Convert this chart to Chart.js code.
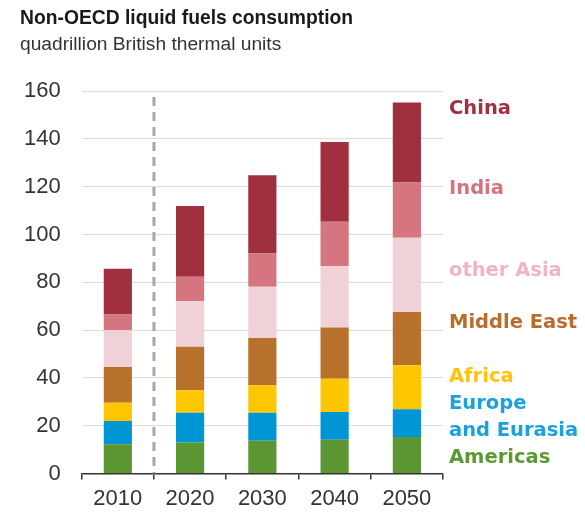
<!DOCTYPE html>
<html>
<head>
<meta charset="utf-8">
<script src="https://cdn.jsdelivr.net/npm/chart.js@4"></script>
<style>
    html, body { margin: 0; padding: 0; background: #fff; }
    #wrap { position: relative; width: 585px; height: 513px; overflow: hidden; }
    #fuelChart { display: block; }
    #title { position: absolute; left: 20px; top: 7px; font: bold 19.3px "Liberation Sans", Arial, sans-serif; color: #1a1a1a; }
    #subtitle { position: absolute; left: 20px; top: 33px; font: 19.2px "Liberation Sans", Arial, sans-serif; color: #333; }
</style>
</head>
<body>
<div id="wrap">
    <canvas id="fuelChart" width="585" height="513"></canvas>
    <div id="title">Non-OECD liquid fuels consumption</div>
    <div id="subtitle">quadrillion British thermal units</div>
</div>
<script>
const years = ['2010', '2020', '2030', '2040', '2050'];
const regions = ['Americas', 'Europe and Eurasia', 'Africa', 'Middle East', 'other Asia', 'India', 'China'];

const americas   = [12.3, 13.0, 13.7, 14.2, 15.3];
const europe     = [9.7, 12.4, 11.7, 11.6, 11.6];
const africa     = [7.6, 9.5, 11.5, 13.9, 18.4];
const middleEast = [15.0, 18.1, 19.8, 21.4, 22.3];
const otherAsia  = [15.3, 19.1, 21.4, 25.6, 31.0];
const india      = [6.6, 10.2, 13.9, 18.6, 23.1];
const china      = [19.2, 29.6, 32.8, 33.4, 33.5];

const yTicks = [0, 20, 40, 60, 80, 100, 120, 140, 160];

const seriesValues = [americas, europe, africa, middleEast, otherAsia, india, china];
const barColors = ['#5b9632', '#0096d6', '#fec600', '#b8712b', '#f0d1d7', '#d47580', '#a0303f'];

// right-hand labels, top to bottom, anchored in axis units
const sideLabels = [
    { lines: ['China'], at: 153.6, color: '#a3303f' },
    { lines: ['India'], at: 120.1, color: '#d6737f' },
    { lines: ['other Asia'], at: 85.9, color: '#efb6c1' },
    { lines: ['Middle East'], at: 64.0, color: '#b86d2a' },
    { lines: ['Africa'], at: 41.5, color: '#ffc20e' },
    { lines: ['Europe', 'and Eurasia'], at: 30.1, color: '#1ba1db' },
    { lines: ['Americas'], at: 7.6, color: '#5b9a32' }
];

const extrasPlugin = {
    id: 'extras',
    afterDatasetsDraw(chart) {
        const { ctx, chartArea, scales } = chart;
        const x = scales.x, y = scales.y;
        // dashed divider between history and projection
        const dx = (x.getPixelForValue(0) + x.getPixelForValue(1)) / 2;
        ctx.save();
        ctx.strokeStyle = '#a8a8a8';
        ctx.lineWidth = 3;
        ctx.setLineDash([9, 6]);
        ctx.beginPath();
        ctx.moveTo(dx, chartArea.top + 6);
        ctx.lineTo(dx, chartArea.bottom);
        ctx.stroke();
        ctx.restore();

        ctx.save();
        ctx.font = 'bold 19.5px "DejaVu Sans", sans-serif';
        ctx.textBaseline = 'middle';
        ctx.textAlign = 'left';
        sideLabels.forEach(lab => {
            ctx.fillStyle = lab.color;
            const py = y.getPixelForValue(lab.at) + 2.5;
            lab.lines.forEach((t, i) => ctx.fillText(t, chartArea.right + 6, py + i * 26.6));
        });
        ctx.restore();
    }
};

const ctx = document.getElementById('fuelChart').getContext('2d');
new Chart(ctx, {
    type: 'bar',
    data: {
        labels: years,
        datasets: regions.map((name, i) => ({
            label: name,
            data: seriesValues[i],
            backgroundColor: barColors[i],
            borderWidth: 0,
            categoryPercentage: 1.0,
            barPercentage: 0.39
        }))
    },
    options: {
        responsive: false,
        animation: false,
        layout: { padding: { top: 91, right: 142, left: 3, bottom: -5 } },
        plugins: { legend: { display: false }, tooltip: { enabled: false } },
        scales: {
            x: {
                stacked: true,
                grid: { offset: true, drawOnChartArea: false, drawTicks: true, tickLength: 6, color: '#333', lineWidth: 1.5 },
                border: { display: true, color: '#333', width: 1.5 },
                ticks: { color: '#333', font: { family: '"Liberation Sans", Arial, sans-serif', size: 22 }, padding: 6 }
            },
            y: {
                stacked: true,
                min: 0, max: 160,
                afterBuildTicks: axis => { axis.ticks = yTicks.map(v => ({ value: v })); },
                grid: { color: '#dcdcdc', lineWidth: 1, drawTicks: false },
                border: { display: false },
                ticks: { color: '#333', font: { family: '"Liberation Sans", Arial, sans-serif', size: 22 }, padding: 21 }
            }
        }
    },
    plugins: [extrasPlugin]
});
</script>
</body>
</html>
